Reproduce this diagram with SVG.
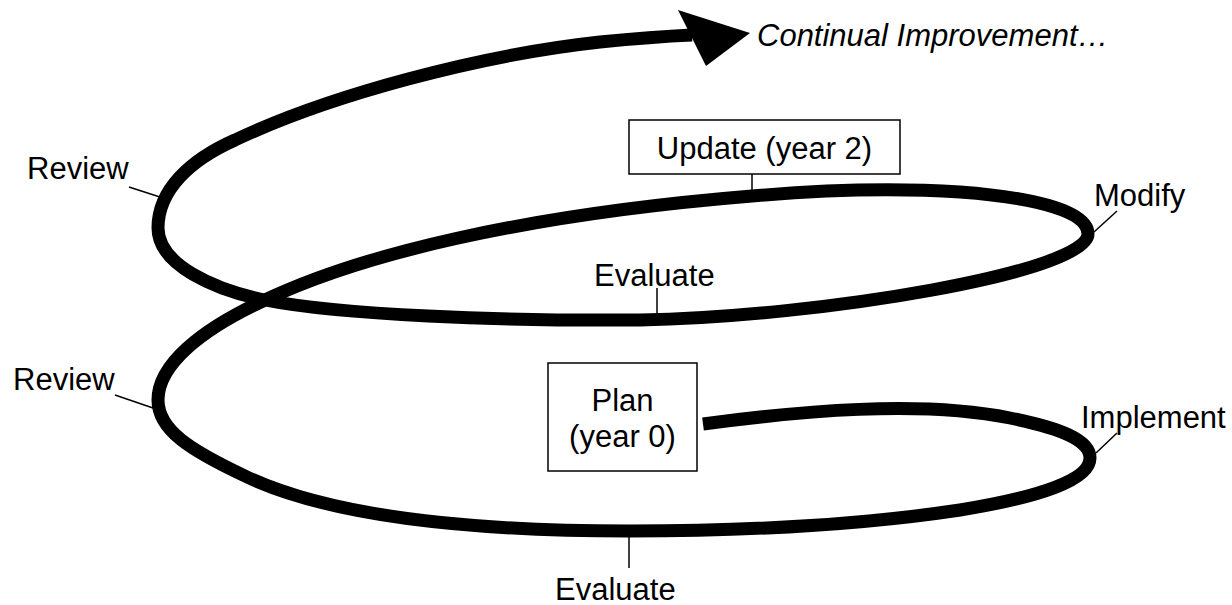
<svg xmlns="http://www.w3.org/2000/svg" width="1232" height="605" viewBox="0 0 1232 605">
<style>
text{font-family:"Liberation Sans",Arial,sans-serif;font-size:31px;fill:#000}
.it{font-style:italic}
.box{fill:#fff;stroke:#000;stroke-width:1.5}
.spiral{fill:none;stroke:#000;stroke-width:13;stroke-linecap:butt;stroke-linejoin:round}
.lead{fill:none;stroke:#000;stroke-width:1.5}
</style>
<rect width="1232" height="605" fill="#fff"/>
<g id="connectors">
<path class="spiral" d="M703,424 C800,411 920,400 1010,418 C1060,428 1090,440 1090,458 C1090,480 1040,497 960,510 C860,525 740,531 629,531 C450,531 320,512 245,476 C190,450 158,430 158,400 C158,365 200,330 265,300 C360,255 520,215 752,196 C810,191 880,187 960,192 C1040,198 1088,212 1088,234 C1088,272 820,317 640,320 C500,321 340,315 265,300 C215,290 158,265 158,228 C158,190 190,160 235,140 C330,95 480,55 600,42 C640,38 670,36 692,35"/>
<polygon points="678,10 750,33 706,66" fill="#000"/>
<line class="lead" x1="129" y1="187" x2="163" y2="198"/>
<line class="lead" x1="115" y1="395" x2="153" y2="408"/>
<line class="lead" x1="1117" y1="211" x2="1094" y2="232"/>
<line class="lead" x1="1117" y1="433" x2="1096" y2="453"/>
<line class="lead" x1="629" y1="537" x2="629" y2="568"/>
<line class="lead" x1="657" y1="288" x2="657" y2="314"/>
<line class="lead" x1="752" y1="174" x2="752" y2="191"/>
</g>
<g id="node-continual"><text class="it" x="757" y="46">Continual Improvement…</text></g>
<g id="node-update"><rect class="box" x="629" y="120" width="271" height="54"/><text x="764.5" y="159" text-anchor="middle">Update (year 2)</text></g>
<g id="node-plan"><rect class="box" x="548" y="363" width="149" height="108"/><text x="622.5" y="411" text-anchor="middle">Plan</text><text x="622.5" y="447" text-anchor="middle">(year 0)</text></g>
<g id="node-review-top"><text x="27" y="179">Review</text></g>
<g id="node-review-bottom"><text x="13" y="390">Review</text></g>
<g id="node-modify"><text x="1094" y="206">Modify</text></g>
<g id="node-implement"><text x="1081" y="428">Implement</text></g>
<g id="node-evaluate-top"><text x="594" y="286">Evaluate</text></g>
<g id="node-evaluate-bottom"><text x="555" y="600">Evaluate</text></g>
</svg>
